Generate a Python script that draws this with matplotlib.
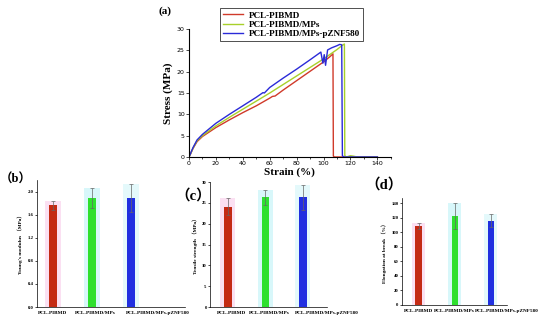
import numpy as np
import matplotlib.pyplot as plt
from matplotlib.ticker import MultipleLocator

plt.rcParams['font.family'] = ['Liberation Serif', 'Noto Sans CJK SC']
plt.rcParams['font.weight'] = 'bold'

# (a) stress-strain curves
series_names = ["PCL-PIBMD", "PCL-PIBMD/MPs", "PCL-PIBMD/MPs-pZNF580"]
series_colors = ["#d03a2a", "#a8d02a", "#2a2ad8"]

strain_red = [0, 1, 3, 6, 10, 20, 30, 40, 50, 60, 62, 64, 70, 80, 90, 100, 105, 107, 107.3, 108, 140]
stress_red = [0, 0.6, 2.0, 3.6, 4.8, 6.9, 8.7, 10.4, 12.0, 13.8, 14.2, 14.3, 15.7, 17.9, 20.1, 22.3, 23.6, 24.2, 0.2, 0, 0]

strain_grn = [0, 1, 3, 6, 10, 20, 30, 40, 50, 60, 70, 80, 90, 100, 105, 110, 114, 115.5, 115.8, 117, 120, 122, 125, 140]
stress_grn = [0, 0.6, 2.1, 3.8, 5.0, 7.3, 9.3, 11.2, 13.1, 15.0, 17.0, 19.0, 21.0, 23.0, 24.1, 25.2, 26.2, 26.5, 0.3, 0, 0.3, 0.2, 0, 0]

strain_blu = [0, 1, 3, 6, 10, 20, 30, 40, 50, 55, 56, 60, 70, 80, 90, 98, 99.5, 100.5, 101.5, 103, 106, 110, 112, 113.5, 114, 115, 140]
stress_blu = [0, 0.7, 2.2, 4.0, 5.3, 7.9, 10.0, 12.0, 14.0, 15.1, 15.0, 16.3, 18.5, 20.6, 22.8, 24.6, 22.0, 24.0, 21.5, 25.1, 25.6, 26.1, 26.4, 26.3, 0.3, 0, 0]

# (b)-(d) mechanical properties
groups = ["PCL-PIBMD", "PCL-PIBMD/MPs", "PCL-PIBMD/MPs-pZNF580"]
bar_colors = ["#c42a14", "#2ee02e", "#2030e0"]
shade_colors = ["#fbe0f2", "#d8f7fa", "#e4f9fb"]
modulus = [1.76, 1.89, 1.89]
modulus_err = [0.08, 0.17, 0.24]
strength = [24.1, 26.4, 26.4]
strength_err = [2.0, 1.8, 3.0]
elongation = [108, 122, 116]
elongation_err = [4, 18, 9]

fig = plt.figure(figsize=(5.5, 3.23), dpi=100)

# ---- panel (a)
ax = fig.add_axes([0.3436, 0.514, 0.367, 0.396])
curves = [(strain_red, stress_red), (strain_grn, stress_grn), (strain_blu, stress_blu)]
for (xs, ys), name, col in zip(curves, series_names, series_colors):
    ax.plot(xs, ys, color=col, lw=1.0, label=name)
ax.set_xlim(0, 150)
ax.set_ylim(0, 30)
ax.xaxis.set_major_locator(MultipleLocator(20))
ax.xaxis.set_minor_locator(MultipleLocator(10))
ax.yaxis.set_major_locator(MultipleLocator(5))
ax.spines['top'].set_visible(False)
ax.spines['right'].set_visible(False)
ax.tick_params(labelsize=4.5, length=2, width=0.5, pad=1)
ax.tick_params(which='minor', length=1.2, width=0.5)
for lab in ax.get_xticklabels() + ax.get_yticklabels():
    lab.set_family('DejaVu Sans')
    lab.set_fontweight('normal')
ax.set_xlabel("Strain (%)", fontsize=8, fontweight='bold', labelpad=1)
ax.set_ylabel("Stress (MPa)", fontsize=8, fontweight='bold', labelpad=3)
leg = fig.legend(loc='upper left', bbox_to_anchor=(0.392, 0.988), fontsize=6.6,
                 frameon=True, fancybox=False, edgecolor='black', borderpad=0.3,
                 labelspacing=0.1, handlelength=2.2, handletextpad=0.6)
leg.get_frame().set_linewidth(0.6)
fig.text(0.300, 0.965, "(a)", fontsize=8, fontweight='bold', ha='center', va='center')


def bar_panel(rect, vals, errs, ylim, step, fmt, ylabel, tag, tagpos, tagsize, xlim, width, label_pos):
    bx = fig.add_axes(rect)
    xs = np.arange(len(vals))
    tops = [v + e for v, e in zip(vals, errs)]
    bx.bar(xs, tops, width=width * 2.0, color=shade_colors, edgecolor='none', zorder=1)
    bx.bar(xs, vals, width=width, color=bar_colors, edgecolor='none', zorder=2)
    bx.errorbar(xs, vals, yerr=errs, fmt='none', ecolor='#666666', elinewidth=0.5,
                capsize=1.2, capthick=0.5, zorder=3)
    bx.set_xlim(*xlim)
    bx.set_ylim(*ylim)
    bx.yaxis.set_major_locator(MultipleLocator(step))
    bx.yaxis.set_major_formatter(fmt)
    bx.set_xticks(label_pos)
    bx.set_xticklabels(groups)
    bx.spines['top'].set_visible(False)
    bx.spines['right'].set_visible(False)
    for s in ['left', 'bottom']:
        bx.spines[s].set_linewidth(0.5)
    bx.tick_params(axis='y', labelsize=3.4, length=1.5, width=0.5, pad=1)
    bx.tick_params(axis='x', labelsize=3.8, length=0, pad=3)
    bx.set_ylabel(ylabel, fontsize=3.8, fontweight='bold', labelpad=3)
    fig.text(tagpos[0], tagpos[1], tag, fontsize=tagsize, fontweight='bold', ha='left', va='center')
    return bx


bar_panel([0.067, 0.0495, 0.269, 0.393], modulus, modulus_err, (0, 2.2), 0.4,
          lambda v, p: f"{v:.1f}", "Young's modulus （MPa）", "（b）", (0.0, 0.445), 9,
          (-0.41, 3.38), 0.2, [0, 1.08, 2.7])
bar_panel([0.382, 0.0495, 0.213, 0.387], strength, strength_err, (0, 30), 5,
          lambda v, p: f"{v:.0f}", "Tensile strength （MPa）", "（c）", (0.318, 0.395), 10.5,
          (-0.47, 2.42), 0.2, [0.1, 1.1, 2.65])
bar_panel([0.731, 0.056, 0.191, 0.331], elongation, elongation_err, (0, 147), 20,
          lambda v, p: f"{v:.0f}", "Elongation at break （%）", "（d）", (0.665, 0.428), 10.5,
          (-0.46, 2.23), 0.18, [0, 1.0, 2.45])

fig.savefig("out.png", dpi=100)
